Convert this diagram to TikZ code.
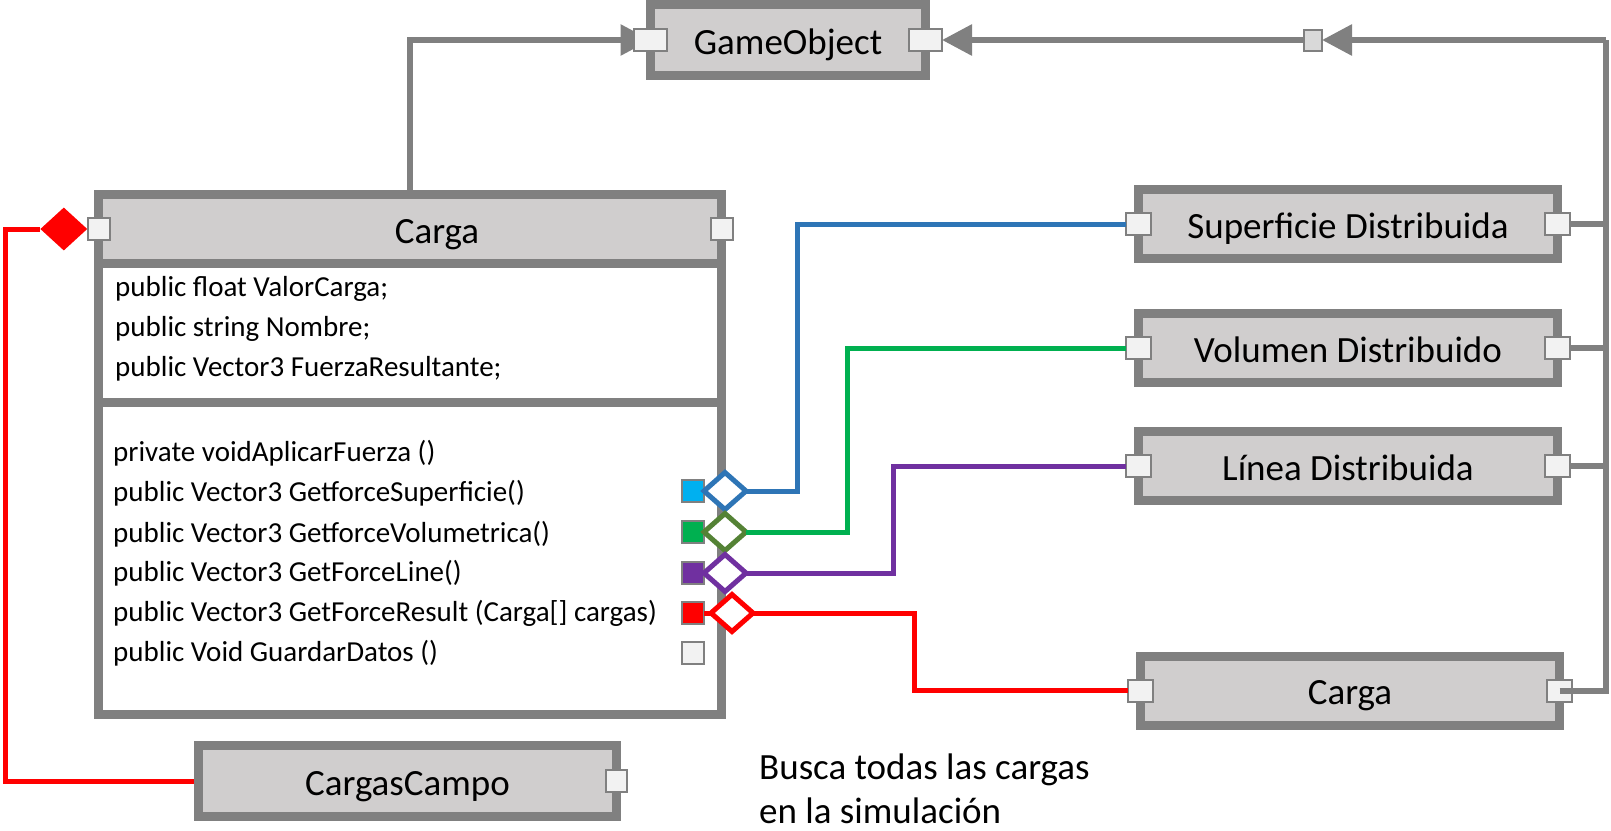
\documentclass[tikz,border=0pt]{standalone}
\usepackage{fontspec}
\setmainfont{Carlito}
\usetikzlibrary{positioning, arrows.meta, calc, shapes.geometric, backgrounds}
\definecolor{lngray}{HTML}{808080}
\definecolor{boxgray}{HTML}{D0CECE}
\definecolor{portgray}{HTML}{F2F2F2}
\definecolor{juncgray}{HTML}{D9D9D9}
\definecolor{lnblue}{HTML}{2E75B6}
\definecolor{sqblue}{HTML}{00B0F0}
\definecolor{lngreen}{HTML}{00B050}
\definecolor{dkgreen}{HTML}{548235}
\definecolor{lnpurple}{HTML}{7030A0}
\definecolor{lnred}{HTML}{FF0000}

\begin{document}
\begin{tikzpicture}[x=1pt, y=-1pt, >={Triangle[length=30pt, width=30pt]},
  cls/.style={draw=lngray, line width=9pt, fill=boxgray, outer sep=0pt, inner sep=0pt, minimum height=69pt, text height=31pt, text depth=3pt, font=\fontsize{37}{44}\selectfont},
  sect/.style={draw=lngray, line width=9pt, fill=white, outer sep=0pt, inner sep=0pt, minimum width=623pt},
  port/.style={draw=lngray, line width=2pt, fill=portgray, outer sep=0pt, inner sep=0pt, minimum width=25pt, minimum height=22pt},
  msq/.style={draw=lngray, line width=2pt, outer sep=0pt, inner sep=0pt, minimum size=22pt},
  odia/.style={diamond, draw, line width=5pt, fill=white, outer sep=0pt, inner sep=0pt, minimum width=42pt, minimum height=37pt},
  member/.style={anchor=west, inner sep=0pt, font=\fontsize{29}{40}\selectfont},
  conn/.style={draw=lngray, line width=6pt},
  link/.style={line width=5pt}]
  \useasboundingbox (0,0) rectangle (1611,830);

  % classes
  \node[cls, minimum width=275pt, minimum height=71pt] (go) at (788,40) {GameObject};
  \node[cls, minimum width=623pt] (cargaH) at (410,229) {\hspace*{54pt}Carga};
  \node[sect, below=0pt of cargaH, minimum height=138.5pt] (cargaA) {};
  \node[sect, below=0pt of cargaA, minimum height=312.5pt] (cargaM) {};
  \node[cls, minimum width=419pt] (sup) at (1348,224) {Superficie Distribuida};
  \node[cls, minimum width=419pt, below=55pt of sup] (vol) {Volumen Distribuido};
  \node[cls, minimum width=419pt, below=49pt of vol] (lin) {Línea Distribuida};
  \node[cls, minimum width=419pt] (carga2) at (1350,690.5) {Carga};
  \node[cls, minimum width=418pt, minimum height=71pt] (cc) at (407.5,781) {CargasCampo};

  % members
  \node[member] (a1) at (115,289) {public float ValorCarga;};
  \node[member] (a2) at (115,329) {public string Nombre;};
  \node[member] (a3) at (115,369) {public Vector3 FuerzaResultante;};
  \node[member] (m1) at (113,453) {private voidAplicarFuerza ()};
  \node[member] (m2) at (113,493) {public Vector3 GetforceSuperficie()};
  \node[member] (m3) at (113,534) {public Vector3 GetforceVolumetrica()};
  \node[member] (m4) at (113,573) {public Vector3 GetForceLine()};
  \node[member] (m5) at (113,613) {public Vector3 GetForceResult (Carga[] cargas)};
  \node[member] (m6) at (113,653) {public Void GuardarDatos ()};

  % ports
  \node[port, minimum width=33pt] (goL) at (go.west) {};
  \node[port, minimum width=33pt] (goR) at (go.east) {};
  \node[port, minimum width=22pt] (cargaL) at (cargaH.west) {};
  \node[port, minimum width=22pt] (cargaR) at (cargaH.east) {};
  \node[port] (supL) at (sup.west) {};
  \node[port] (supR) at (sup.east) {};
  \node[port] (volL) at (vol.west) {};
  \node[port] (volR) at (vol.east) {};
  \node[port] (linL) at (lin.west) {};
  \node[port] (linR) at (lin.east) {};
  \node[port] (carga2L) at (carga2.west) {};
  \node[port] (carga2R) at (carga2.east) {};
  \node[port, minimum width=21pt] (ccR) at (cc.east) {};
  \node[port, fill=juncgray, minimum width=18pt, minimum height=21pt] (junc) at (1313,40) {};
  \coordinate (bus) at (1606,40);

  % method squares and diamonds
  \node[msq, fill=sqblue] (sqS) at (693,491) {};
  \node[msq, fill=lngreen] (sqV) at (693,532) {};
  \node[msq, fill=lnpurple] (sqL) at (693,573) {};
  \node[msq, fill=lnred] (sqC) at (693,613) {};
  \node[msq, fill=portgray] (sqG) at (693,653) {};
  \node[odia, draw=lnblue, right=0pt of sqS] (dS) {};
  \node[odia, draw=dkgreen, right=0pt of sqV] (dV) {};
  \node[odia, draw=lnpurple, right=0pt of sqL] (dL) {};
  \node[odia, draw=lnred, right=7pt of sqC] (dC) {};
  \node[diamond, fill=lnred, inner sep=0pt, minimum width=47pt, minimum height=43pt, left=0pt of cargaL] (fd) {};

  \node[anchor=north west, align=left, inner sep=0pt, font=\fontsize{37}{44}\selectfont] (note) at (759,754) {Busca todas las cargas\\en la simulación};

  % connectors
  \begin{scope}[on background layer]
    \draw[conn, ->] (cargaH.north) |- (goL.center);
    \draw[conn, ->] (junc.west) -- (goR.east);
    \draw[conn, ->] (bus) -- (junc.east);
    \draw[conn] (supR.east) -- (supR.east -| bus);
    \draw[conn] (volR.east) -- (volR.east -| bus);
    \draw[conn] (linR.east) -- (linR.east -| bus);
    \draw[link, lnred] (fd.west) -- ++(-35,0) |- (cc.west);
  \end{scope}
  \draw[conn] (carga2R.center) -| (bus);
  \draw[link, lnblue] (dS.east) -- ++(51,0) |- (supL.west);
  \draw[link, lngreen] (dV.east) -- ++(101,0) |- (volL.west);
  \draw[link, lnpurple] (dL.east) -- ++(147,0) |- (linL.west);
  \draw[link, lnred] (sqC.east) -- (dC.west);
  \draw[link, lnred] (dC.east) -- ++(161,0) |- (carga2L.west);
\end{tikzpicture}
\end{document}
